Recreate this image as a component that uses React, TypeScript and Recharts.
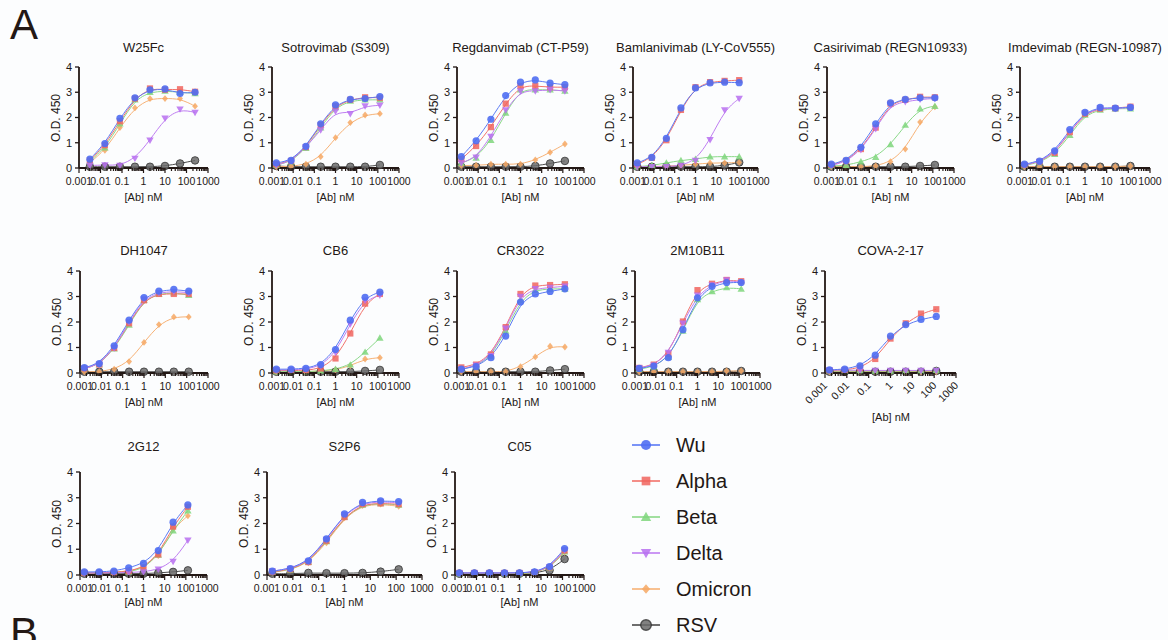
import React from 'react';
import { ComposedChart, Line, XAxis, YAxis } from 'recharts';

const INK = '#231815';
const FONT = '"Liberation Sans", Arial, Helvetica, sans-serif';

const SERIES = ['Wu', 'Alpha', 'Beta', 'Delta', 'Omicron', 'RSV'];
const DRAW_ORDER = ['RSV', 'Omicron', 'Beta', 'Alpha', 'Delta', 'Wu'];
const COLORS: Record<string, string> = {
  Wu: '#4f6ef2',
  Alpha: '#f0645e',
  Beta: '#7fd67c',
  Delta: '#b76ff0',
  Omicron: '#f6a864',
  RSV: '#555555',
};
const LINE_COLORS: Record<string, string> = {
  Wu: '#5b7af5',
  Alpha: '#f2726b',
  Beta: '#8bd989',
  Delta: '#bf7ef2',
  Omicron: '#f7b276',
  RSV: '#4a4a4a',
};

// concentrations (nM)
const CONC_125 = [0.0016, 0.008, 0.04, 0.2, 1, 5, 25, 125];
const CONC_250 = [0.0032, 0.016, 0.08, 0.4, 2, 10, 50, 250];

// axis ticks
const X_MAJOR = [0.001, 0.01, 0.1, 1, 10, 100, 1000];
const X_MAJOR_LABELS = ['0.001', '0.01', '0.1', '1', '10', '100', '1000'];
const X_MINOR_MULT = [2, 3, 4, 5, 6, 7, 8, 9];
const X_TICKS = [...X_MAJOR, ...X_MAJOR.slice(0, -1).flatMap((m) => X_MINOR_MULT.map((k) => m * k))].sort((a, b) => a - b);
const Y_TICKS = [0, 1, 2, 3, 4];

// O.D. 450 values per antibody, one array per variant
const W25FC = {
  Wu: [0.35, 0.97, 1.97, 2.78, 3.1, 3.13, 2.95, 3.0],
  Alpha: [0.3, 0.9, 1.85, 2.75, 3.15, 3.1, 3.12, 3.02],
  Beta: [0.27, 0.8, 1.75, 2.7, 3.0, 3.05, 3.0, 2.95],
  Delta: [0.1, 0.12, 0.1, 0.38, 1.1, 1.97, 2.33, 2.2],
  Omicron: [0.22, 0.7, 1.6, 2.38, 2.75, 2.75, 2.75, 2.45],
  RSV: [0.05, 0.05, 0.05, 0.05, 0.05, 0.08, 0.18, 0.3],
};
const SOTROVIMAB = {
  Wu: [0.2, 0.3, 0.86, 1.75, 2.5, 2.72, 2.75, 2.83],
  Alpha: [0.15, 0.28, 0.83, 1.7, 2.45, 2.7, 2.8, 2.78],
  Beta: [0.12, 0.25, 0.78, 1.6, 2.4, 2.65, 2.7, 2.7],
  Delta: [0.12, 0.27, 0.82, 1.5, 2.25, 2.15, 2.45, 2.48],
  Omicron: [0.05, 0.06, 0.15, 0.45, 1.2, 1.8, 2.1, 2.15],
  RSV: [0.08, 0.05, 0.05, 0.05, 0.05, 0.05, 0.05, 0.12],
};
const REGDANVIMAB = {
  Wu: [0.45, 1.08, 1.93, 2.87, 3.4, 3.49, 3.36, 3.3],
  Alpha: [0.35, 0.87, 1.62, 2.55, 3.25, 3.25, 3.2, 3.2],
  Beta: [0.2, 0.4, 1.1, 2.18, 3.1, 3.1, 3.1, 3.05],
  Delta: [0.2, 0.42, 1.25, 2.3, 3.05, 3.05, 3.1, 3.05],
  Omicron: [0.1, 0.1, 0.15, 0.15, 0.15, 0.32, 0.62, 0.95],
  RSV: [0.05, 0.05, 0.05, 0.05, 0.05, 0.08, 0.18, 0.28],
};
const BAMLANIVIMAB = {
  Wu: [0.2, 0.42, 1.17, 2.38, 3.17, 3.37, 3.4, 3.38],
  Alpha: [0.15, 0.4, 1.1, 2.3, 3.2, 3.4, 3.45, 3.48],
  Beta: [0.05, 0.1, 0.2, 0.3, 0.35, 0.45, 0.45, 0.45],
  Delta: [0.05, 0.05, 0.05, 0.1, 0.3, 1.12, 2.3, 2.75],
  Omicron: [0.05, 0.05, 0.08, 0.1, 0.15, 0.2, 0.2, 0.22],
  RSV: [0.05, 0.05, 0.05, 0.05, 0.05, 0.05, 0.1, 0.22],
};
const CASIRIVIMAB = {
  Wu: [0.15, 0.3, 0.82, 1.75, 2.58, 2.72, 2.78, 2.78],
  Alpha: [0.12, 0.28, 0.75, 1.6, 2.55, 2.7, 2.82, 2.8],
  Beta: [0.08, 0.1, 0.25, 0.43, 0.93, 1.7, 2.35, 2.45],
  Delta: [0.1, 0.25, 0.72, 1.55, 2.5, 2.62, 2.72, 2.75],
  Omicron: [0.05, 0.05, 0.05, 0.08, 0.25, 0.75, 1.82, 2.42],
  RSV: [0.05, 0.05, 0.05, 0.05, 0.05, 0.05, 0.08, 0.12],
};
const IMDEVIMAB = {
  Wu: [0.15, 0.27, 0.68, 1.52, 2.2, 2.4, 2.37, 2.4],
  Alpha: [0.12, 0.25, 0.6, 1.42, 2.15, 2.35, 2.37, 2.43],
  Beta: [0.1, 0.22, 0.55, 1.3, 2.1, 2.3, 2.35, 2.35],
  Delta: [0.12, 0.25, 0.62, 1.45, 2.17, 2.37, 2.35, 2.4],
  Omicron: [0.05, 0.05, 0.05, 0.05, 0.05, 0.05, 0.05, 0.08],
  RSV: [0.05, 0.05, 0.05, 0.05, 0.05, 0.05, 0.05, 0.08],
};
const DH1047 = {
  Wu: [0.21, 0.37, 1.06, 2.07, 2.96, 3.21, 3.28, 3.21],
  Alpha: [0.18, 0.33, 0.98, 1.95, 2.85, 3.1, 3.1, 3.1],
  Beta: [0.18, 0.33, 0.95, 1.88, 2.85, 3.1, 3.15, 3.05],
  Delta: [0.18, 0.33, 0.98, 2.0, 2.9, 3.15, 3.2, 3.15],
  Omicron: [0.05, 0.05, 0.15, 0.45, 1.2, 1.9, 2.2, 2.2],
  RSV: [0.05, 0.05, 0.05, 0.05, 0.05, 0.05, 0.05, 0.05],
};
const CB6 = {
  Wu: [0.15, 0.15, 0.18, 0.33, 0.92, 2.07, 2.97, 3.17],
  Alpha: [0.1, 0.1, 0.1, 0.18, 0.57, 1.55, 2.72, 3.1],
  Beta: [0.05, 0.05, 0.05, 0.08, 0.15, 0.32, 0.82, 1.37],
  Delta: [0.12, 0.12, 0.15, 0.28, 0.8, 1.92, 2.85, 3.05],
  Omicron: [0.05, 0.05, 0.05, 0.08, 0.12, 0.28, 0.55, 0.6],
  RSV: [0.05, 0.05, 0.05, 0.05, 0.05, 0.05, 0.08, 0.12],
};
const CR3022 = {
  Wu: [0.15, 0.25, 0.6, 1.45, 2.78, 3.1, 3.2, 3.3],
  Alpha: [0.22, 0.33, 0.73, 1.8, 3.1, 3.43, 3.45, 3.48],
  Beta: [0.15, 0.28, 0.65, 1.65, 2.85, 3.25, 3.3, 3.3],
  Delta: [0.15, 0.3, 0.68, 1.75, 3.0, 3.3, 3.35, 3.4],
  Omicron: [0.05, 0.05, 0.05, 0.05, 0.25, 0.63, 1.05, 1.02],
  RSV: [0.05, 0.05, 0.05, 0.05, 0.05, 0.05, 0.1, 0.15],
};
const M2M10B11 = {
  Wu: [0.18, 0.27, 0.6, 1.7, 2.95, 3.4, 3.55, 3.55],
  Alpha: [0.2, 0.33, 0.75, 2.02, 3.25, 3.5, 3.65, 3.6],
  Beta: [0.15, 0.25, 0.62, 1.65, 2.88, 3.2, 3.35, 3.3],
  Delta: [0.2, 0.3, 0.8, 1.95, 3.05, 3.45, 3.65, 3.55],
  Omicron: [0.05, 0.05, 0.05, 0.05, 0.05, 0.05, 0.08, 0.08],
  RSV: [0.05, 0.05, 0.05, 0.05, 0.05, 0.05, 0.05, 0.08],
};
const COVA_2_17 = {
  Wu: [0.12, 0.15, 0.28, 0.7, 1.45, 1.9, 2.1, 2.22],
  Alpha: [0.1, 0.12, 0.2, 0.55, 1.35, 1.95, 2.33, 2.5],
  Beta: [0.08, 0.08, 0.08, 0.08, 0.08, 0.08, 0.08, 0.1],
  Delta: [0.12, 0.12, 0.1, 0.1, 0.1, 0.1, 0.1, 0.1],
  Omicron: [0.05, 0.05, 0.05, 0.05, 0.05, 0.05, 0.05, 0.05],
  RSV: [0.05, 0.05, 0.05, 0.05, 0.05, 0.05, 0.05, 0.08],
};
const G2G12 = {
  Wu: [0.12, 0.12, 0.15, 0.28, 0.45, 0.95, 2.05, 2.72],
  Alpha: [0.08, 0.08, 0.1, 0.15, 0.3, 0.8, 1.88, 2.65],
  Beta: [0.08, 0.08, 0.1, 0.12, 0.25, 0.78, 1.72, 2.5],
  Delta: [0.08, 0.08, 0.08, 0.1, 0.12, 0.22, 0.52, 1.35],
  Omicron: [0.08, 0.08, 0.1, 0.15, 0.28, 0.75, 1.8, 2.3],
  RSV: [0.05, 0.05, 0.05, 0.05, 0.05, 0.08, 0.12, 0.18],
};
const S2P6 = {
  Wu: [0.15, 0.25, 0.55, 1.4, 2.37, 2.82, 2.88, 2.85],
  Alpha: [0.12, 0.22, 0.5, 1.33, 2.25, 2.75, 2.78, 2.75],
  Beta: [0.12, 0.2, 0.5, 1.3, 2.25, 2.72, 2.78, 2.72],
  Delta: [0.15, 0.25, 0.52, 1.38, 2.35, 2.78, 2.85, 2.8],
  Omicron: [0.1, 0.2, 0.47, 1.25, 2.22, 2.7, 2.75, 2.67],
  RSV: [0.05, 0.05, 0.08, 0.07, 0.07, 0.08, 0.13, 0.22],
};
const C05 = {
  Wu: [0.08, 0.08, 0.08, 0.08, 0.08, 0.12, 0.33, 1.03],
  Alpha: [0.08, 0.08, 0.08, 0.08, 0.08, 0.1, 0.3, 0.95],
  Beta: [0.05, 0.05, 0.05, 0.05, 0.05, 0.1, 0.28, 0.9],
  Delta: [0.08, 0.08, 0.08, 0.08, 0.08, 0.12, 0.3, 0.97],
  Omicron: [0.05, 0.05, 0.05, 0.05, 0.05, 0.1, 0.28, 0.88],
  RSV: [0.05, 0.05, 0.05, 0.05, 0.05, 0.08, 0.18, 0.62],
};

type PanelCfg = {
  title: string;
  values: Record<string, number[]>;
  conc: number[];
  x: number; y: number; w: number; h: number;
  titleY: number; xLabelY: number; xLabelX?: number;
  rotated?: boolean;
};

const PANELS: PanelCfg[] = [
  { title: 'W25Fc', values: W25FC, conc: CONC_250, x: 79, y: 67, w: 129, h: 101, titleY: 48, xLabelY: 197 },
  { title: 'Sotrovimab (S309)', values: SOTROVIMAB, conc: CONC_125, x: 272, y: 67, w: 127, h: 101, titleY: 48, xLabelY: 197 },
  { title: 'Regdanvimab (CT-P59)', values: REGDANVIMAB, conc: CONC_125, x: 457, y: 67, w: 127, h: 101, titleY: 48, xLabelY: 197 },
  { title: 'Bamlanivimab (LY-CoV555)', values: BAMLANIVIMAB, conc: CONC_125, x: 633, y: 67, w: 125, h: 101, titleY: 48, xLabelY: 197 },
  { title: 'Casirivimab (REGN10933)', values: CASIRIVIMAB, conc: CONC_125, x: 827, y: 67, w: 127, h: 101, titleY: 48, xLabelY: 197 },
  { title: 'Imdevimab (REGN-10987)', values: IMDEVIMAB, conc: CONC_125, x: 1020, y: 67, w: 130, h: 101, titleY: 48, xLabelY: 197 },
  { title: 'DH1047', values: DH1047, conc: CONC_125, x: 80, y: 271, w: 128, h: 102, titleY: 251, xLabelY: 402 },
  { title: 'CB6', values: CB6, conc: CONC_125, x: 272, y: 271, w: 127, h: 102, titleY: 251, xLabelY: 402 },
  { title: 'CR3022', values: CR3022, conc: CONC_125, x: 457, y: 271, w: 127, h: 102, titleY: 251, xLabelY: 402 },
  { title: '2M10B11', values: M2M10B11, conc: CONC_125, x: 635, y: 271, w: 125, h: 102, titleY: 251, xLabelY: 402 },
  { title: 'COVA-2-17', values: COVA_2_17, conc: CONC_125, x: 825, y: 271, w: 131, h: 102, titleY: 251, xLabelY: 417, xLabelX: 891, rotated: true },
  { title: '2G12', values: G2G12, conc: CONC_125, x: 80, y: 472, w: 127, h: 103, titleY: 447, xLabelY: 602 },
  { title: 'S2P6', values: S2P6, conc: CONC_125, x: 267, y: 472, w: 155, h: 103, titleY: 447, xLabelY: 602 },
  { title: 'C05', values: C05, conc: CONC_125, x: 455, y: 472, w: 129, h: 103, titleY: 447, xLabelY: 602 },
];

function Marker({ cx, cy, s, k = 1 }: { cx: number; cy: number; s: string; k?: number }) {
  if (cx == null || cy == null || isNaN(cx) || isNaN(cy)) return null;
  const c = COLORS[s];
  const op = 0.85;
  if (s === 'Wu') return <circle cx={cx} cy={cy} r={3.6 * k} fill={c} fillOpacity={0.9} />;
  if (s === 'Alpha') return <rect x={cx - 3.1 * k} y={cy - 3.1 * k} width={6.2 * k} height={6.2 * k} fill={c} fillOpacity={op} />;
  if (s === 'Beta') {
    const a = 3.7 * k;
    return <polygon points={`${cx},${cy - a} ${cx + a},${cy + a * 0.75} ${cx - a},${cy + a * 0.75}`} fill={c} fillOpacity={op} />;
  }
  if (s === 'Delta') {
    const a = 3.7 * k;
    return <polygon points={`${cx},${cy + a} ${cx + a},${cy - a * 0.75} ${cx - a},${cy - a * 0.75}`} fill={c} fillOpacity={op} />;
  }
  if (s === 'Omicron') {
    const a = 3.4 * k;
    return <polygon points={`${cx},${cy - a} ${cx + a * 0.85},${cy} ${cx},${cy + a} ${cx - a * 0.85},${cy}`} fill={c} fillOpacity={op} />;
  }
  return <circle cx={cx} cy={cy} r={3.8 * k} fill="#6b6b6b" fillOpacity={0.85} stroke="#333333" strokeOpacity={0.8} strokeWidth={1 * k} />;
}

function XTick(props: any) {
  const { x, y, payload, rotated } = props;
  const v = payload.value;
  const lg = Math.log10(v);
  const isMajor = Math.abs(lg - Math.round(lg)) < 1e-6;
  const label = isMajor ? X_MAJOR_LABELS[Math.round(lg) + 3] : '';
  return (
    <g>
      <line x1={x} x2={x} y1={y} y2={y + (isMajor ? 5 : 3)} stroke={INK} strokeWidth={1.2} />
      {isMajor && !rotated && (
        <text x={x} y={y + 17} textAnchor="middle" fontSize={10.5} fill={INK}>{label}</text>
      )}
      {isMajor && rotated && (
        <text x={x + 3} y={y + 13} textAnchor="end" fontSize={10.5} fill={INK} transform={`rotate(-45 ${x + 3} ${y + 13})`}>{label}</text>
      )}
    </g>
  );
}

function Panel({ p }: { p: PanelCfg }) {
  const ML = 40, MT = 8, MR = 30;
  const XH = p.rotated ? 50 : 30;
  const rows = p.conc.map((c, i) => {
    const r: any = { c };
    SERIES.forEach((s) => { r[s] = p.values[s][i]; });
    return r;
  });
  const textBase: React.CSSProperties = { position: 'absolute', whiteSpace: 'nowrap', color: INK, lineHeight: '14px' };
  return (
    <>
      <div style={{ ...textBase, left: p.x + p.w / 2, top: p.titleY, transform: 'translate(-50%,-50%)', fontSize: 13 }}>{p.title}</div>
      <div style={{ ...textBase, left: p.x - 23, top: p.y + p.h / 2, transform: 'translate(-50%,-50%) rotate(-90deg)', fontSize: 12 }}>O.D. 450</div>
      <div style={{ ...textBase, left: p.xLabelX ?? p.x + p.w / 2, top: p.xLabelY, transform: 'translate(-50%,-50%)', fontSize: 11 }}>[Ab] nM</div>
      <div style={{ position: 'absolute', left: p.x - ML, top: p.y - MT }}>
        <ComposedChart width={ML + p.w + MR} height={MT + p.h + XH} data={rows} margin={{ top: MT, right: MR, bottom: 0, left: 0 }}>
          <XAxis
            dataKey="c" type="number" scale="log" domain={[0.001, 1000]} ticks={X_TICKS} interval={0}
            tickSize={0} tickMargin={0} tickLine={false} axisLine={{ stroke: INK, strokeWidth: 1.8 }}
            height={XH} tick={<XTick rotated={p.rotated} />} allowDataOverflow
          />
          <YAxis
            type="number" domain={[0, 4]} ticks={Y_TICKS} interval={0} width={ML}
            tickSize={4} tickMargin={3} tickLine={{ stroke: INK, strokeWidth: 1.3 }}
            axisLine={{ stroke: INK, strokeWidth: 1.8 }} tick={{ fontSize: 11, fill: INK }}
          />
          {DRAW_ORDER.map((s) => (
            <Line
              key={s} dataKey={s} type="basis" stroke={LINE_COLORS[s]} strokeWidth={1}
              isAnimationActive={false} activeDot={false}
              dot={(d: any) => <Marker key={`${s}-${d.index}`} cx={d.cx} cy={d.cy} s={s} />}
            />
          ))}
        </ComposedChart>
      </div>
    </>
  );
}

function Legend() {
  const y0 = 445;
  const step = 36;
  return (
    <svg style={{ position: 'absolute', left: 620, top: 425, overflow: 'visible' }} width={200} height={215}>
      {SERIES.map((s, i) => {
        const cy = y0 + i * step - 425;
        return (
          <g key={s}>
            <line x1={12} x2={40} y1={cy} y2={cy} stroke={LINE_COLORS[s]} strokeWidth={1.6} />
            <Marker cx={26} cy={cy} s={s} k={1.4} />
            <text x={56} y={cy} dominantBaseline="central" fontSize={20} fill={INK}>{s}</text>
          </g>
        );
      })}
    </svg>
  );
}

export default function App() {
  return (
    <div style={{ position: 'absolute', left: 0, top: 0, width: 1168, height: 640, background: '#fcfdfe', fontFamily: FONT, overflow: 'hidden' }}>
      <div style={{ position: 'absolute', left: 10, top: 4, fontSize: 42, lineHeight: 1, color: INK }}>A</div>
      <div style={{ position: 'absolute', left: 10, top: 612, fontSize: 42, lineHeight: 1, color: INK }}>B</div>
      {PANELS.map((p) => <Panel key={p.title} p={p} />)}
      <Legend />
    </div>
  );
}
